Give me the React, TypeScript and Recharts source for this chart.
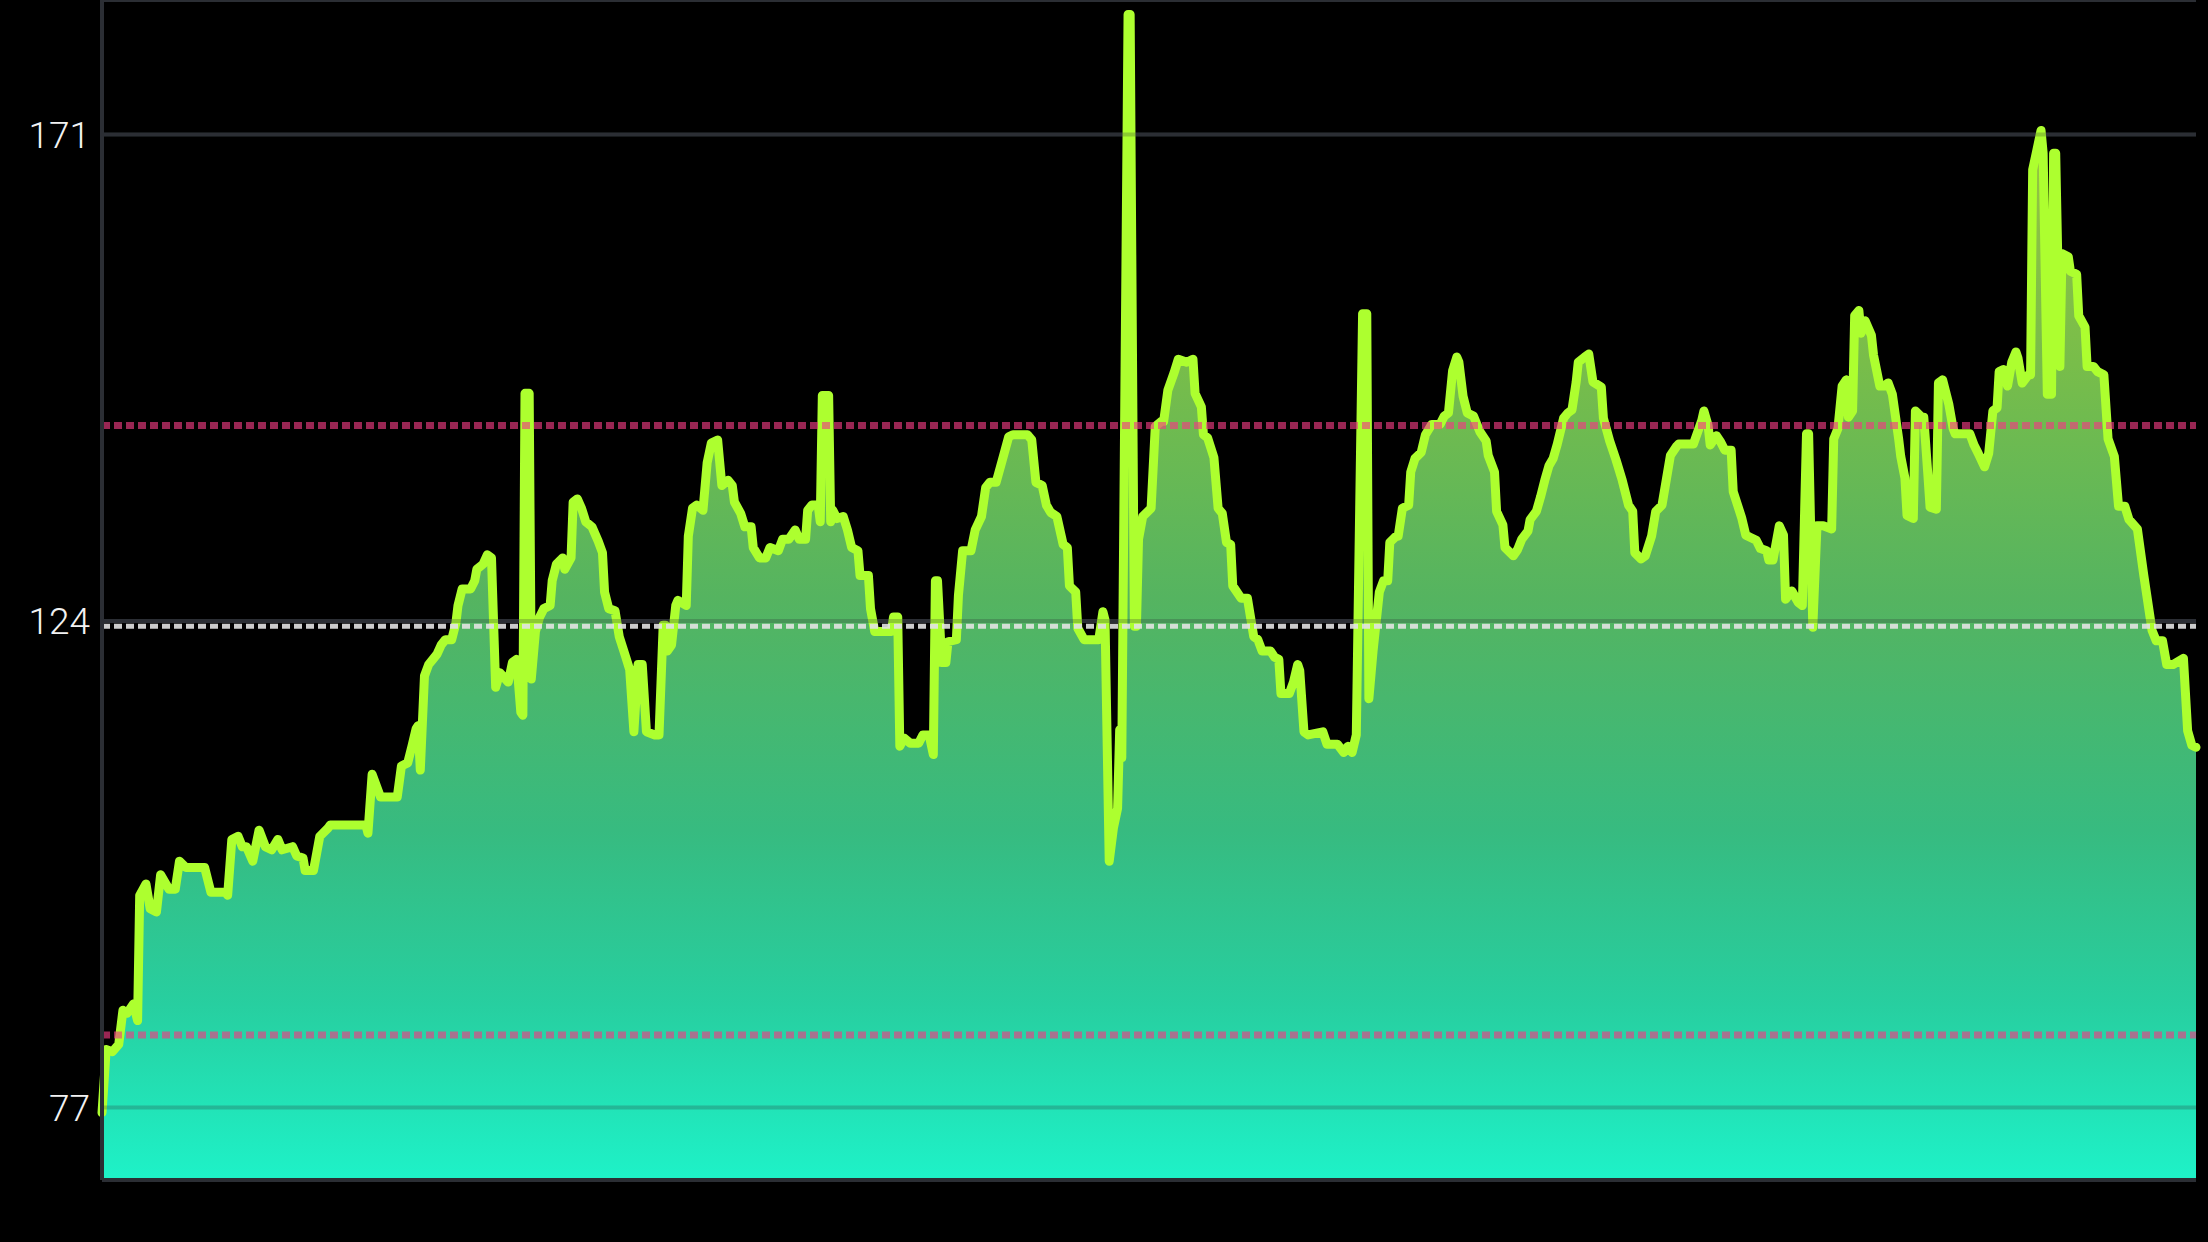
import React from "react";
import { AreaChart, Area, XAxis, YAxis, CartesianGrid, ReferenceLine } from "recharts";

// sample index (0..1000) and value read at each vertex of the trace
const DAYS = [
  0, 2, 5, 8, 10, 12, 15, 17, 18, 21, 23, 26, 28, 32, 35, 37, 40, 49, 52, 59,
  60, 62, 65, 67, 69, 72, 75, 78, 81, 84, 86, 91, 93, 96, 97, 101, 104, 108, 109, 126,
  127, 129, 133, 141, 143, 146, 148, 150, 151, 152, 154, 156, 158, 160, 162, 164, 167, 169, 170, 172,
  176, 178, 179, 182, 184, 186, 188, 190, 194, 196, 198, 200, 201, 202, 204, 205, 207, 209, 211, 214,
  215, 217, 220, 221, 224, 225, 227, 229, 231, 234, 237, 239, 240, 242, 245, 247, 250, 252, 254, 256,
  258, 260, 264, 266, 268, 269, 270, 272, 274, 275, 279, 280, 282, 284, 287, 289, 291, 294, 296, 299,
  301, 302, 305, 307, 310, 311, 314, 317, 319, 323, 325, 328, 331, 333, 336, 337, 339, 342, 343, 344,
  347, 348, 349, 351, 354, 356, 358, 361, 362, 366, 367, 369, 377, 378, 380, 381, 383, 386, 390, 392,
  395, 397, 398, 399, 401, 403, 404, 408, 409, 411, 415, 417, 420, 422, 424, 427, 430, 433, 435, 442,
  444, 446, 449, 451, 453, 456, 459, 461, 462, 465, 466, 469, 476, 478, 479, 481, 483, 485, 486, 487,
  490, 491, 493, 494, 495, 497, 501, 503, 506, 507, 509, 512, 514, 518, 521, 522, 525, 526, 528, 531,
  533, 535, 537, 539, 540, 544, 547, 550, 552, 554, 558, 560, 562, 563, 567, 569, 571, 572, 574, 576,
  583, 585, 590, 593, 595, 597, 599, 602, 604, 605, 607, 610, 612, 614, 615, 618, 619, 621, 624, 625,
  627, 630, 632, 635, 639, 641, 643, 645, 647, 648, 650, 652, 655, 658, 661, 662, 665, 666, 669, 670,
  674, 676, 678, 681, 682, 685, 687, 689, 691, 693, 695, 698, 700, 702, 704, 705, 708, 710, 712, 716,
  717, 720, 723, 726, 729, 731, 732, 735, 737, 740, 742, 745, 747, 749, 752, 753, 760, 764, 765, 767,
  768, 771, 773, 775, 778, 779, 783, 785, 787, 790, 792, 795, 796, 798, 801, 803, 804, 807, 810, 812,
  814, 815, 817, 819, 822, 826, 827, 829, 831, 833, 834, 836, 837, 839, 840, 842, 845, 846, 849, 851,
  853, 855, 858, 859, 861, 862, 865, 866, 869, 870, 872, 873, 876, 877, 879, 882, 884, 885, 892, 894,
  896, 899, 901, 903, 905, 906, 908, 910, 912, 914, 915, 917, 920, 921, 922, 924, 926, 927, 929, 931,
  932, 933, 935, 936, 939, 940, 943, 944, 947, 948, 951, 953, 956, 958, 961, 963, 966, 968, 972, 975,
  979, 981, 984, 986, 989, 994, 996, 998, 1000,
];

const VALUES = [
  76.5, 82.6, 82.4, 83.1, 86.4, 86.1, 87.0, 85.4, 97.5, 98.6, 96.2, 95.9, 99.5, 98.1, 98.1, 100.8, 100.2, 100.2, 97.8, 97.8,
  97.5, 102.9, 103.2, 102.2, 102.2, 100.8, 103.8, 102.2, 101.9, 102.9, 101.9, 102.2, 101.3, 101.1, 99.9, 99.9, 103.2, 104.0, 104.3, 104.3,
  103.5, 109.2, 107.0, 107.0, 110.0, 110.3, 111.9, 113.6, 113.9, 109.6, 118.7, 119.8, 120.3, 120.8, 121.7, 122.2, 122.2, 123.8, 125.5, 127.1,
  127.1, 127.9, 129.0, 129.5, 130.4, 130.1, 117.6, 119.0, 118.1, 120.0, 120.3, 115.2, 114.9, 146.0, 146.0, 118.4, 123.0, 124.4, 125.2, 125.5,
  127.9, 129.5, 130.1, 129.0, 130.1, 135.5, 135.8, 134.9, 133.6, 133.1, 131.7, 130.6, 126.8, 125.2, 125.0, 122.5, 120.6, 119.3, 113.3, 119.8,
  119.8, 113.3, 113.0, 113.0, 123.6, 123.6, 121.1, 121.7, 125.5, 126.0, 125.5, 132.2, 134.9, 135.2, 134.7, 139.3, 141.2, 141.5, 137.1, 137.6,
  137.1, 135.5, 134.4, 133.1, 133.1, 131.1, 130.1, 130.1, 131.1, 130.8, 131.9, 131.9, 132.8, 131.9, 131.9, 134.7, 135.2, 135.2, 133.6, 145.8,
  145.8, 133.6, 134.7, 133.9, 134.1, 132.8, 131.1, 130.8, 128.4, 128.4, 125.2, 123.0, 123.0, 124.4, 124.4, 111.9, 112.7, 112.2, 112.2, 113.0,
  113.0, 111.1, 127.9, 127.9, 120.0, 120.0, 122.0, 122.2, 126.5, 130.8, 130.8, 132.8, 134.1, 136.9, 137.4, 137.4, 139.6, 141.8, 142.0, 142.0,
  141.5, 137.4, 137.1, 135.2, 134.5, 134.1, 131.4, 131.1, 127.4, 126.8, 123.3, 122.2, 122.2, 124.9, 124.1, 100.8, 104.0, 105.9, 113.5, 110.8,
  182.6, 182.6, 123.5, 123.5, 131.9, 134.1, 134.9, 142.8, 143.3, 143.3, 146.3, 148.0, 149.3, 149.0, 149.3, 146.0, 144.7, 142.0, 141.7, 139.8,
  134.9, 134.4, 131.6, 131.4, 127.4, 126.2, 126.2, 122.5, 122.2, 121.1, 121.1, 120.5, 120.3, 117.0, 117.0, 118.1, 119.8, 119.2, 113.3, 113.0,
  113.3, 112.1, 112.1, 111.3, 111.9, 111.3, 113.0, 153.7, 153.7, 116.5, 121.1, 126.8, 127.9, 127.9, 131.6, 132.2, 132.2, 134.9, 135.2, 138.4,
  139.7, 140.3, 142.0, 143.0, 143.0, 143.8, 144.1, 148.2, 149.5, 149.0, 145.7, 144.1, 143.8, 142.3, 141.4, 140.0, 138.4, 134.6, 133.3, 131.1,
  130.3, 130.9, 131.9, 132.7, 133.8, 134.6, 136.0, 137.6, 139.0, 139.7, 141.1, 143.6, 144.1, 144.4, 147.1, 149.0, 149.5, 149.8, 147.1, 146.6,
  143.6, 141.4, 139.6, 137.6, 135.2, 134.6, 130.6, 130.0, 130.3, 132.2, 134.6, 135.2, 137.6, 140.0, 140.9, 141.1, 141.1, 143.4, 144.3, 142.9,
  141.0, 141.9, 141.3, 140.5, 140.5, 136.5, 134.0, 132.3, 132.1, 131.8, 131.0, 130.8, 129.9, 129.9, 133.2, 132.3, 126.1, 126.9, 125.8, 125.5,
  142.1, 142.1, 123.4, 133.2, 133.2, 132.9, 141.6, 142.6, 146.7, 147.3, 143.7, 144.3, 153.5, 154.0, 151.8, 153.0, 151.6, 149.7, 146.7, 146.7,
  147.0, 145.9, 141.6, 139.9, 137.8, 134.2, 133.9, 144.3, 143.7, 143.7, 138.0, 135.0, 134.8, 147.0, 147.3, 144.9, 142.6, 142.1, 142.1, 141.0,
  140.2, 138.9, 140.2, 144.3, 144.6, 148.1, 148.3, 146.7, 149.0, 150.0, 149.4, 147.0, 147.8, 147.8, 167.6, 169.5, 171.4, 169.2, 145.9, 145.9,
  169.2, 169.2, 148.6, 159.5, 159.2, 157.8, 157.5, 153.5, 152.4, 148.6, 148.6, 148.1, 147.8, 141.6, 139.9, 135.1, 135.1, 133.8, 132.9, 128.5,
  123.1, 122.1, 122.1, 119.8, 119.8, 120.4, 113.4, 112.0, 111.8,
];

const Y_TICKS = [77, 124, 171];
const Y_DOMAIN = [70, 184];
const AVERAGE = 123.5;
const UPPER_LIMIT = 142.9;
const LOWER_LIMIT = 84;

const data = DAYS.map((t, i) => ({ t, v: VALUES[i] }));

const gridColor = "#2b2e34";

export default function App() {
  return (
    <div style={{ position: "fixed", left: 0, top: 0, width: 2208, height: 1242, background: "#000" }}>
      <AreaChart width={2208} height={1242} data={data} margin={{ top: 0, right: 12, bottom: 32, left: 0 }}>
        <defs>
          <linearGradient id="fillGrad" x1="0" y1="0" x2="0" y2="1">
            <stop offset="0%" stopColor="#a8c83c" />
            <stop offset="30%" stopColor="#78bd4a" />
            <stop offset="50%" stopColor="#55b460" />
            <stop offset="70%" stopColor="#37bb80" />
            <stop offset="85%" stopColor="#27cfa0" />
            <stop offset="100%" stopColor="#1ef2c8" />
          </linearGradient>
        </defs>
        <CartesianGrid vertical={false} stroke={gridColor} strokeWidth={4} />
        <XAxis
          type="number"
          dataKey="t"
          domain={[0, 1000]}
          tick={false}
          tickLine={false}
          height={30}
          axisLine={{ stroke: gridColor, strokeWidth: 4 }}
        />
        <YAxis
          type="number"
          domain={Y_DOMAIN}
          ticks={Y_TICKS}
          width={102}
          tickSize={0}
          tickMargin={12}
          tickLine={false}
          axisLine={{ stroke: gridColor, strokeWidth: 4 }}
          tick={{ fill: "#f2f2f2", fontSize: 37, fontWeight: 300, fontFamily: "'Helvetica Neue', Roboto, sans-serif" }}
        />
        <Area
          type="linear"
          dataKey="v"
          stroke="#adff2f"
          strokeWidth={9}
          strokeLinejoin="round"
          strokeLinecap="round"
          fill="url(#fillGrad)"
          fillOpacity={1}
          dot={false}
          activeDot={false}
          isAnimationActive={false}
        />
        {Y_TICKS.map((y) => (
          <ReferenceLine key={y} y={y} stroke={gridColor} strokeOpacity={0.25} strokeWidth={4} />
        ))}
        <ReferenceLine y={AVERAGE} stroke="#e2e2e2" strokeOpacity={0.9} strokeWidth={5} strokeDasharray="8 4" />
        <ReferenceLine y={UPPER_LIMIT} stroke="#f03c82" strokeOpacity={0.64} strokeWidth={7} strokeDasharray="8 4" />
        <ReferenceLine y={LOWER_LIMIT} stroke="#f03c82" strokeOpacity={0.64} strokeWidth={7} strokeDasharray="8 4" />
      </AreaChart>
    </div>
  );
}
